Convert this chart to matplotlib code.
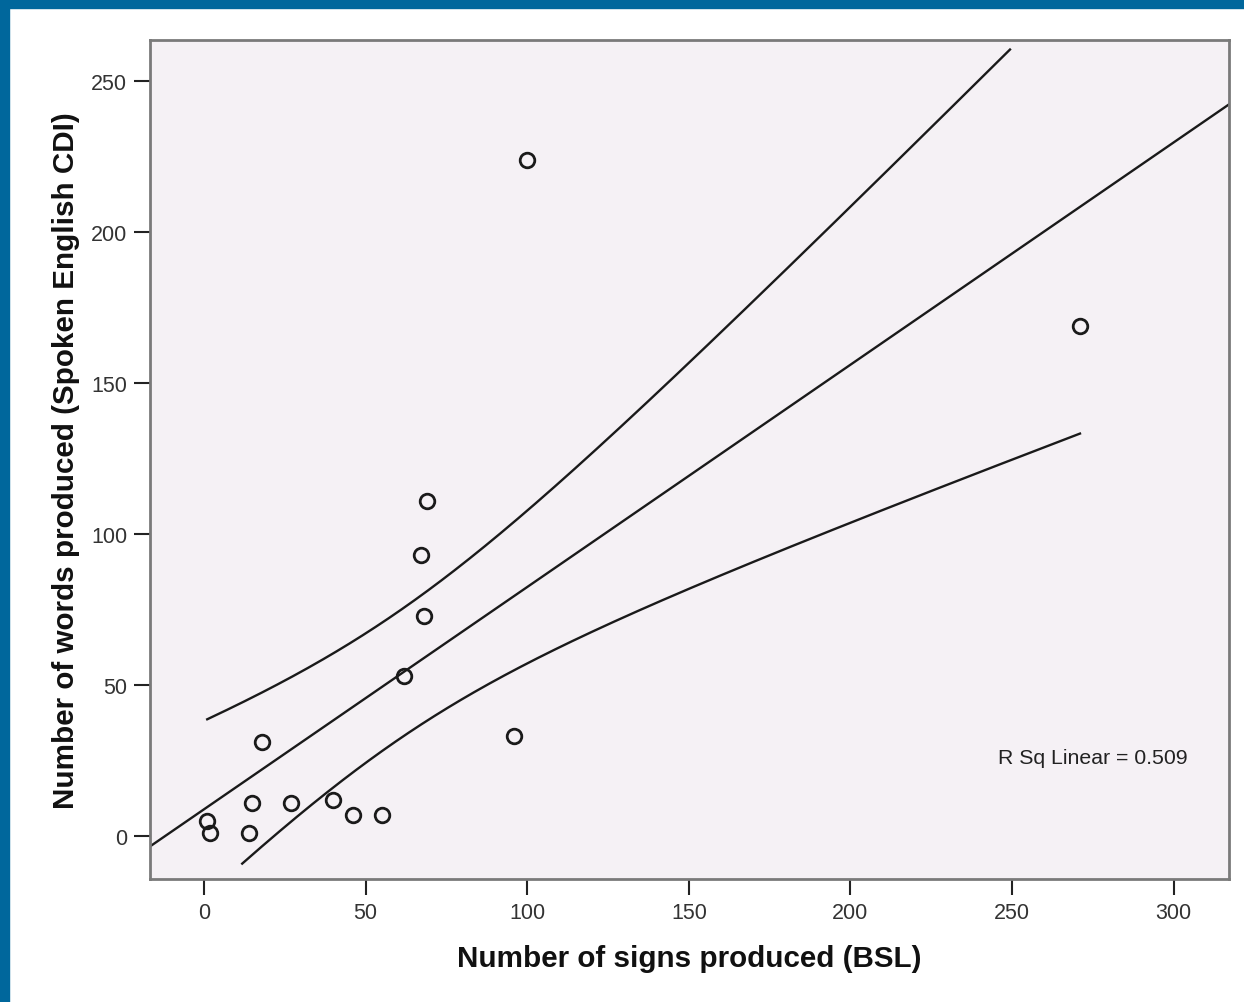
import numpy as np
import matplotlib.pyplot as plt
from matplotlib.patches import Rectangle

plt.rcParams['font.family'] = ['Liberation Sans', 'DejaVu Sans']

# signs produced (BSL) vs words produced (spoken English CDI)
bsl_signs = [1, 2, 14, 15, 18, 27, 40, 46, 55, 62, 67, 68, 69, 96, 100, 271]
cdi_words = [5, 1, 1, 11, 31, 11, 12, 7, 7, 53, 93, 73, 111, 33, 224, 169]
r_sq_label = 'R Sq Linear = 0.509'
x_ticks = [0, 50, 100, 150, 200, 250, 300]
y_ticks = [0, 50, 100, 150, 200, 250]

x = np.array(bsl_signs, dtype=float)
y = np.array(cdi_words, dtype=float)
n = len(x)
slope, intercept = np.polyfit(x, y, 1)
resid = y - (slope * x + intercept)
s = np.sqrt(np.sum(resid ** 2) / (n - 2))
sxx = np.sum((x - x.mean()) ** 2)
t_crit = 1.761  # t(0.95, df=14) -> 90% interval for the mean

fig = plt.figure(figsize=(12.44, 10.03), dpi=100)
# blue frame along top and left
fig.patches.append(Rectangle((0, 1 - 9 / 1003), 1, 9 / 1003, transform=fig.transFigure,
                             color='#00679c', zorder=0))
fig.patches.append(Rectangle((0, 0), 9 / 1244, 1, transform=fig.transFigure,
                             color='#00679c', zorder=0))

ax = fig.add_axes([150 / 1244, 1 - 880 / 1003, 1079 / 1244, 839 / 1003])
ax.set_facecolor('#f5f1f5')
ax.set_xlim(-16.7, 317.1)
ax.set_ylim(-14.2, 263.6)

# fit line across the whole plot
xl = np.linspace(-16.7, 317.1, 50)
ax.plot(xl, slope * xl + intercept, color='#1a1a1a', lw=1.7, zorder=2)

# confidence band for the mean
xc = np.linspace(x.min(), x.max(), 400)
se = s * np.sqrt(1 / n + (xc - x.mean()) ** 2 / sxx)
fit = slope * xc + intercept
upper = fit + t_crit * se
lower = fit - t_crit * se
upper = np.where(upper > 261, np.nan, upper)
lower = np.where(lower < -9.5, np.nan, lower)
ax.plot(xc, upper, color='#1a1a1a', lw=1.7, zorder=2)
ax.plot(xc, lower, color='#1a1a1a', lw=1.7, zorder=2)

ax.plot(x, y, 'o', ms=10.5, mfc='none', mec='#1a1a1a', mew=2.0, zorder=3)

ax.text(0.874, 0.1454, r_sq_label, transform=ax.transAxes, ha='center', va='center',
        fontsize=15.3, color='#222222')

ax.set_xticks(x_ticks)
ax.set_yticks(y_ticks)
ax.tick_params(direction='out', length=11.5, width=1.5, color='#222222',
               labelsize=15.5, labelcolor='#333333', pad=5)
for sp in ax.spines.values():
    sp.set_color('#7a7a7a')
    sp.set_linewidth(2)

ax.set_xlabel('Number of signs produced (BSL)', fontsize=21.3, fontweight='bold',
              color='#111111', labelpad=15)
ax.set_ylabel('Number of words produced (Spoken English CDI)', fontsize=21.3,
              fontweight='bold', color='#111111', labelpad=8)

fig.savefig('out.png', dpi=100, facecolor='white')
